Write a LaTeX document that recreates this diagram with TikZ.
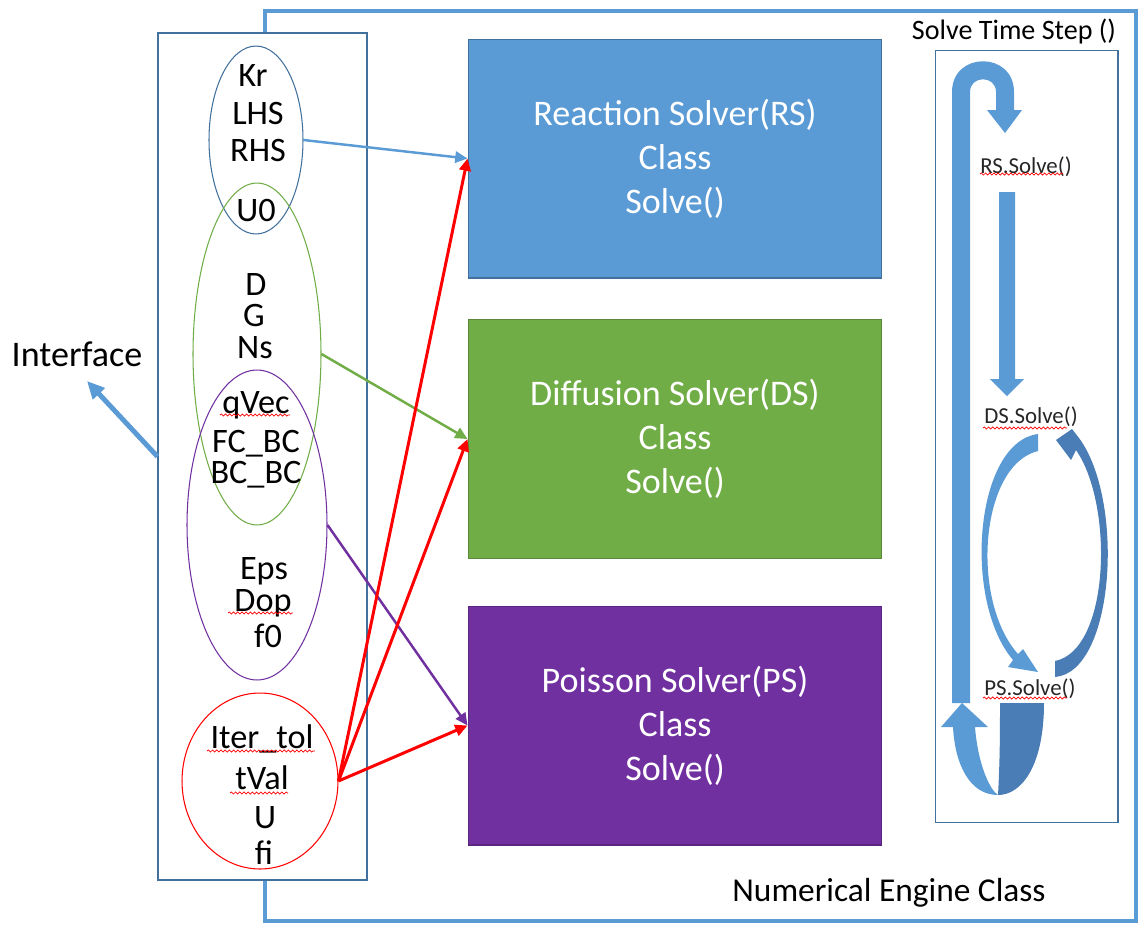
\documentclass[tikz,border=0pt]{standalone}
\usepackage{fontspec}
\setmainfont{Carlito}
\usetikzlibrary{shapes.geometric,arrows.meta,decorations.pathmorphing}
\definecolor{msblue}{HTML}{5B9BD5}
\definecolor{msedge}{HTML}{41719C}
\definecolor{msdark}{HTML}{4A7DB5}
\definecolor{msgreen}{HTML}{70AD47}
\definecolor{mspurple}{HTML}{7030A0}

\tikzset{
  px/.style={x=0.02cm,y=-0.02cm},
  lbl/.style={anchor=base,yshift=-6.5pt,inner sep=0pt,font=\fontsize{19.5}{23}\selectfont},
  varset/.style={draw,ellipse,inner sep=0pt,line width=0.6pt},
  solver/.style={draw=msedge,line width=0.6pt,minimum width=8.28cm,minimum height=4.78cm,
    align=center,text=white,font=\fontsize{20.5}{25}\selectfont},
  call/.style={inner sep=0pt,text=black!85,font=\fontsize{13}{15}\selectfont},
  feed/.style={line width=1.4pt,-{Triangle[length=7pt,width=6.5pt]}},
  wavy/.style={red,line width=0.4pt,decorate,decoration={snake,segment length=2.4pt,amplitude=0.6pt}}
}

\begin{document}
\begin{tikzpicture}[px]
\useasboundingbox (0,0) rectangle (1143,931);

% engine frame
\draw[msblue,line width=2.5pt] (265,11) rectangle (1136,921);
\node[lbl,font=\fontsize{19}{23}\selectfont] (engine) at (889,890) {Numerical Engine Class};

% interface with its variable sets
\node[draw=msedge,fill=white,line width=0.7pt,minimum width=4.18cm,minimum height=16.94cm] (iface) at (262.5,456.5) {};
\node[varset,draw=msedge,minimum width=1.88cm,minimum height=3.76cm] (rsset) at (256,140) {};
\node[varset,draw=msgreen,minimum width=2.56cm,minimum height=6.84cm] (dsset) at (257,354) {};
\node[varset,draw=mspurple,minimum width=2.8cm,minimum height=6.2cm] (psset) at (257,525) {};
\node[varset,draw=red,minimum width=3.12cm,minimum height=3.52cm] (allset) at (260,781) {};

\foreach \x/\y/\t [count=\i] in {253/75/Kr,258/113/LHS,258/150/RHS,256/210/U0,
    256/284/D,254/315/G,255/347/Ns,256/402/qVec,256/441/FC\_BC,256/472/BC\_BC,
    264/568/Eps,263/600/Dop,268/636/f0,262/737/Iter\_tol,262/778/tVal,265/817/U,264/853/fi}
  \node[lbl] (v\i) at (\x,\y) {\t};

\node[lbl,font=\fontsize{20.5}{24}\selectfont] (iflabel) at (77,355) {Interface};
\coordinate (iftip) at (87,381);
\draw[msblue,line width=2.8pt,-{Triangle[length=10pt,width=9pt]}] (iface.west) -- (iftip);

% solver classes
\node[solver,fill=msblue] (rs) at (675,158.5) {Reaction Solver(RS)\\Class\\Solve()};
\node[solver,fill=msgreen,draw=msgreen!80!black] (ds) at (675,439) {Diffusion Solver(DS)\\Class\\Solve()};
\node[solver,fill=mspurple,draw=mspurple!80!black] (ps) at (675,725.5) {Poisson Solver(PS)\\Class\\Solve()};

\draw[feed,msblue] (rsset.east) -- (rs.west);
\draw[feed,msgreen] (dsset.east) -- (ds.west);
\draw[feed,mspurple] (psset.east) -- (ps.west);
\foreach \s in {rs,ds,ps}
  \draw[feed,red,line width=1.7pt] (allset.east) -- (\s.west);

% time step loop
\node[draw=msedge,line width=0.6pt,minimum width=3.66cm,minimum height=15.46cm] (loop) at (1026.5,436.5) {};
\node[lbl,font=\fontsize{16}{19}\selectfont] (tstep) at (1014,28) {Solve Time Step ()};
\node[call] (rscall) at (1026,167) {RS.Solve()};
\node[call] (dscall) at (1031,417) {DS.Solve()};
\node[call] (pscall) at (1030,689) {PS.Solve()};

\fill[msblue] (952,703) -- (952,92) .. controls (952,51) and (1014,51) .. (1014,92)
  -- (1014,110) -- (1022,110) -- (1005,133) -- (987,110) -- (996,110) -- (996,92)
  .. controls (996,75) and (970,75) .. (970,92) -- (970,703) -- cycle;
\fill[msblue] (999,192) -- (1015,192) -- (1015,379) -- (1024,379) -- (1007,396) -- (990,379) -- (999,379) -- cycle;
\fill[msblue] (1038,434) .. controls (975,442) and (962,600) .. (1013,660)
  -- (1008,667) -- (1038,672) -- (1023,649) -- (1018,654)
  .. controls (970,600) and (980,465) .. (1038,451) -- cycle;
\fill[msdark] (1055,677) .. controls (1115,672) and (1125,500) .. (1079,438)
  -- (1072,429) -- (1056,440) -- (1071,460) -- (1076,450)
  .. controls (1114,505) and (1110,650) .. (1055,661) -- cycle;
\fill[msdark] (1000,703) -- (1044,703) .. controls (1044,765) and (1022,795) .. (998,795)
  .. controls (1000,760) and (1000,730) .. cycle;
\fill[msblue] (998,795) .. controls (970,795) and (955,765) .. (953,727) -- (941,727)
  -- (962,703) -- (988,727) -- (975,727) .. controls (978,765) and (990,790) .. cycle;

% spell check marks
\foreach \a/\b/\y in {220/290/415,228/293/613,207/315/751,230/288/793,980/1063/174,983/1067/428,983/1067/698}
  \draw[wavy] (\a,\y) -- (\b,\y);
\end{tikzpicture}
\end{document}
